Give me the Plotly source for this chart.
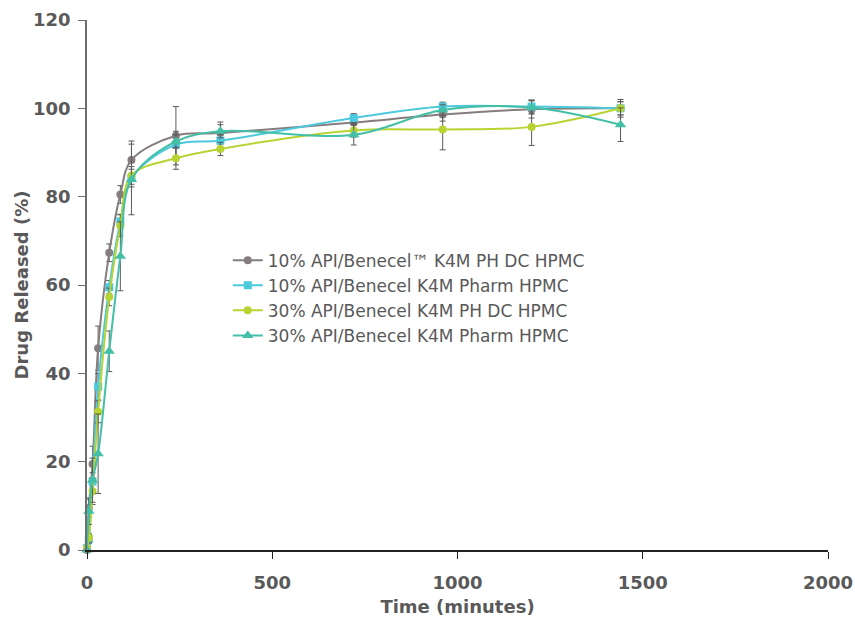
import plotly.graph_objects as go

time = [0, 5, 15, 30, 60, 90, 120, 240, 360, 720, 960, 1200, 1440]

names = [
    "10% API/Benecel™ K4M PH DC HPMC",
    "10% API/Benecel K4M Pharm HPMC",
    "30% API/Benecel K4M PH DC HPMC",
    "30% API/Benecel K4M Pharm HPMC",
]

dc10 = [0, 9.5, 19.5, 45.7, 67.3, 80.5, 88.3, 93.8, 94.4, 96.8, 98.6, 99.8, 100.0]
pharm10 = [0.5, 2.5, 15.5, 37.0, 59.5, 74.4, 84.2, 91.8, 92.7, 97.8, 100.4, 100.4, 100.0]
dc30 = [0.5, 2.8, 13.3, 31.3, 57.3, 73.5, 84.8, 88.7, 90.8, 95.0, 95.2, 95.8, 100.0]
pharm30 = [0, 8.8, 15.8, 21.8, 45.0, 66.5, 83.9, 92.5, 94.8, 94.0, 99.6, 100.2, 96.3]

err_dc10 = [0, 2, 4, 5, 2, 2, 4.3, 6.6, 2.5, 1.5, 1.5, 2, 2]
err_pharm10 = [0, 1, 2, 3, 1.5, 1.5, 2, 3, 1.5, 1, 1, 1.5, 1.5]
err_dc30 = [0, 1, 3, 2.5, 2, 2.5, 2, 2.5, 1.5, 1.5, 4.6, 4.2, 1.5]
err_pharm30 = [0, 3, 5, 9, 4.6, 7.8, 8, 1.5, 1.5, 2.3, 1.2, 1.5, 3.8]

colors = ["#857d7e", "#4dc9dd", "#b7d433", "#44bfa7"]
symbols = ["circle", "square", "circle", "triangle-up"]
sizes = [8, 8, 8, 10]
series = [dc10, pharm10, dc30, pharm30]
errors = [err_dc10, err_pharm10, err_dc30, err_pharm30]

fig = go.Figure()
for name, ys, es, c, s, sz in zip(names, series, errors, colors, symbols, sizes):
    fig.add_trace(go.Scatter(
        x=time, y=ys, name=name, mode="lines+markers",
        line=dict(color=c, width=2, shape="spline", smoothing=1),
        marker=dict(color=c, symbol=s, size=sz),
        error_y=dict(type="data", array=es, visible=True, color="#5a5a5a",
                     thickness=1, width=3),
        cliponaxis=False,
    ))

FONT = "'DejaVu Sans', sans-serif"
fig.update_layout(
    width=855, height=623,
    margin=dict(l=87, r=27, t=20, b=73, autoexpand=False),
    paper_bgcolor="white", plot_bgcolor="white",
    font=dict(family=FONT, color="#595959"),
    legend=dict(
        x=0.19, y=0.58, xanchor="left", yanchor="top",
        font=dict(size=17, color="#595959", family=FONT),
        bgcolor="rgba(0,0,0,0)", tracegroupgap=0, itemwidth=30,
    ),
    showlegend=True,
)
fig.update_xaxes(
    range=[0, 2000], tickvals=[0, 500, 1000, 1500, 2000],
    automargin=False,
    showgrid=False, zeroline=False, showline=True, linecolor="#222222", linewidth=1.5,
    ticks="outside", ticklen=7, tickcolor="#222222", ticklabelstandoff=9,
    tickfont=dict(size=18, family=FONT, color="#595959", weight="bold"),
    title=dict(text="<b>Time (minutes)</b>", font=dict(size=18, color="#595959", family=FONT), standoff=8),
)
fig.update_yaxes(
    range=[0, 120], tickvals=[0, 20, 40, 60, 80, 100, 120],
    automargin=False,
    showgrid=False, zeroline=False, showline=True, linecolor="#6e6e6e", linewidth=1.5,
    ticks="outside", ticklen=7, tickcolor="#6e6e6e", ticklabelstandoff=4,
    tickfont=dict(size=18, family=FONT, color="#595959", weight="bold"),
    title=dict(text="<b>Drug Released (%)</b>", font=dict(size=18, color="#595959", family=FONT), standoff=0),
)

fig.write_html("out.html")
